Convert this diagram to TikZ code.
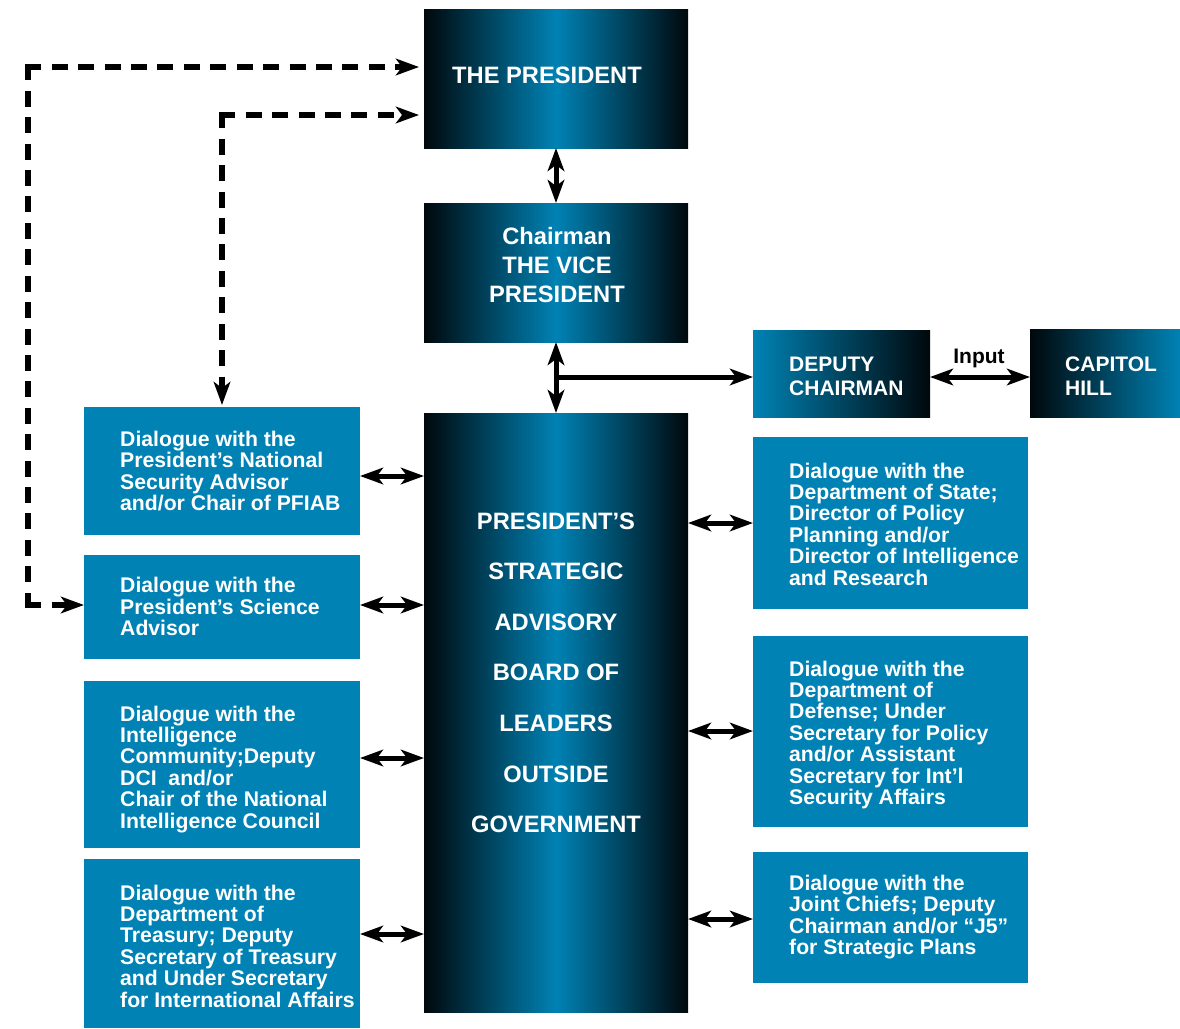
\documentclass[tikz,border=0pt]{standalone}
\usepackage{fontspec}
\setmainfont{Liberation Sans}
\usetikzlibrary{arrows.meta}
\definecolor{dblue}{RGB}{0,130,180}
\definecolor{edgec}{RGB}{0,8,12}
\tikzset{mytip/.tip={Stealth[length=23pt,width=16.5pt,inset=6pt]}}
\begin{document}
\begin{tikzpicture}[x=1pt,y=-1pt,
  box/.style={rectangle, inner sep=0pt, outer sep=0pt},
  lbox/.style={box, fill=dblue},
  gradc/.style={box, left color=edgec, right color=edgec, middle color=dblue},
  gradr/.style={box, left color=dblue, right color=edgec},
  gradl/.style={box, left color=edgec, right color=dblue},
  txt/.style={text=white, font=\bfseries\fontsize{21.2}{21.4}\selectfont, inner sep=0pt, align=left, anchor=base west},
  midtxt/.style={text=white, font=\bfseries\fontsize{21}{23.3}\selectfont, inner sep=0pt, align=left, anchor=base west},
  bigtxt/.style={text=white, font=\bfseries\fontsize{23.7}{29}\selectfont, inner sep=0pt, align=center, anchor=base},
  boardtxt/.style={text=white, font=\bfseries\fontsize{23.7}{50.6}\selectfont, inner sep=0pt, align=center, anchor=base},
  arr/.style={line width=5pt, mytip-mytip},
  arrone/.style={line width=5pt, -mytip},
  dsh/.style={line width=5.5pt, dash pattern=on 16pt off 10.425pt},
  dsharr/.style={dsh, -mytip}
]
\useasboundingbox (0,0) rectangle (1180,1028);

% main column
\node[gradc, minimum width=264, minimum height=139] (pres) at (556,78.5) {};
\node[gradc, minimum width=264, minimum height=139] (vp) at (556,272.5) {};
\node[gradc, minimum width=264, minimum height=599] (board) at (556,712.5) {};
\node[gradr, minimum width=177, minimum height=87] (dep) at (841.5,373.5) {};
\node[gradl, minimum width=150, minimum height=88] (cap) at (1105,373) {};

% left boxes
\node[lbox, minimum width=276, minimum height=128] (b1) at (222,471) {};
\node[lbox, minimum width=276, minimum height=104] (b2) at (222,607) {};
\node[lbox, minimum width=276, minimum height=167] (b3) at (222,764.5) {};
\node[lbox, minimum width=276, minimum height=169] (b4) at (222,943.5) {};
% right boxes
\node[lbox, minimum width=275, minimum height=172] (r1) at (890.5,523) {};
\node[lbox, minimum width=275, minimum height=191] (r2) at (890.5,731.5) {};
\node[lbox, minimum width=275, minimum height=131] (r3) at (890.5,917.5) {};

% texts (anchor = baseline of last line)
\node[bigtxt] (prest) at (547,83) {THE PRESIDENT};
\node[bigtxt] (vpt) at (557,302.5) {Chairman\\THE VICE\\PRESIDENT};
\node[boardtxt] (boardt) at (556,832.6) {PRESIDENT’S\\STRATEGIC\\ADVISORY\\BOARD OF\\LEADERS\\OUTSIDE\\GOVERNMENT};
\node[midtxt] (dept) at (789,395) {DEPUTY\\CHAIRMAN};
\node[midtxt] (capt) at (1065,395) {CAPITOL\\HILL};
\node[text=black, font=\bfseries\fontsize{21}{23}\selectfont, inner sep=0pt, anchor=base] (inp) at (979,363) {Input};

\node[txt] (b1t) at (120,510.5) {Dialogue with the\\President’s National\\Security Advisor\\and/or Chair of PFIAB};
\node[txt] (b2t) at (120,635.5) {Dialogue with the\\President’s Science\\Advisor};
\node[txt] (b3t) at (120,828) {Dialogue with the\\Intelligence\\Community;Deputy\\DCI\ \ and/or\\Chair of the National\\Intelligence Council};
\node[txt] (b4t) at (120,1007) {Dialogue with the\\Department of\\Treasury; Deputy\\Secretary of Treasury\\and Under Secretary\\for International Affairs};
\node[txt] (r1t) at (789,585) {Dialogue with the\\Department of State;\\Director of Policy\\Planning and/or\\Director of Intelligence\\and Research};
\node[txt] (r2t) at (789,804.4) {Dialogue with the\\Department of\\Defense; Under\\Secretary for Policy\\and/or Assistant\\Secretary for Int’l\\Security Affairs};
\node[txt] (r3t) at (789,954.7) {Dialogue with the\\Joint Chiefs; Deputy\\Chairman and/or “J5”\\for Strategic Plans};

% solid connectors
\draw[arr] (pres.south) -- (vp.north);
\draw[arr] (vp.south) -- (board.north);
\coordinate (j) at (556,377);
\draw[arrone] (j) -- (j -| dep.west);
\draw[arr] (dep.east |- j) -- (cap.west |- j);

\coordinate (a1) at (0,476);
\coordinate (a2) at (0,605);
\coordinate (a3) at (0,758);
\coordinate (a4) at (0,934);
\draw[arr] (a1 -| b1.east) -- (a1 -| board.west);
\draw[arr] (a2 -| b2.east) -- (a2 -| board.west);
\draw[arr] (a3 -| b3.east) -- (a3 -| board.west);
\draw[arr] (a4 -| b4.east) -- (a4 -| board.west);

\coordinate (e1) at (0,523);
\coordinate (e2) at (0,731);
\coordinate (e3) at (0,919);
\draw[arr] (e1 -| board.east) -- (e1 -| r1.west);
\draw[arr] (e2 -| board.east) -- (e2 -| r2.west);
\draw[arr] (e3 -| board.east) -- (e3 -| r3.west);

% dashed connectors
\coordinate (c1) at (28,67);
\coordinate (c2) at (28,605);
\coordinate (c3) at (222,115);
\draw[dsh] ([yshift=2.75pt]c1) -- ([yshift=-2.75pt]c2);
\draw[dsharr, shorten >=5pt] ([xshift=-2.75pt]c1) -- (c1 -| pres.west);
\draw[dsharr] ([xshift=-2.75pt]c2) -- (c2 -| b2.west);
\draw[dsharr, shorten >=5pt] ([xshift=-2.75pt]c3) -- (c3 -| pres.west);
\draw[dsharr, shorten >=2pt] ([yshift=2.75pt]c3) -- (c3 |- b1.north);
\end{tikzpicture}
\end{document}
